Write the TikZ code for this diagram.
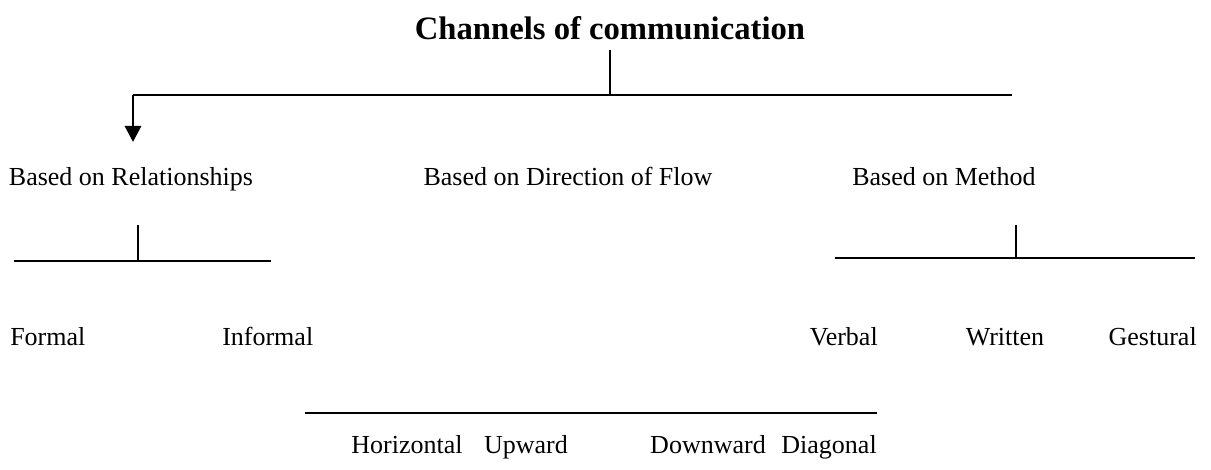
\documentclass[tikz,border=0pt]{standalone}
\usepackage{fontspec}
\setmainfont{Liberation Serif}
\usetikzlibrary{arrows.meta,positioning}
\tikzset{
>={Triangle[width=12pt,length=12pt]},
  chantitle/.style={
    anchor=base,
    inner sep=0pt,
    font=\bfseries\fontsize{24.5}{29}\selectfont},
  chanlabel/.style={
    anchor=base,
    inner sep=0pt,
    font=\fontsize{19.5}{23}\selectfont},
  bar/.style={draw, line width=1.5pt},
  tick/.style={draw, line width=1.2pt},
}

\begin{document}
\begin{tikzpicture}[
    x=0.75pt, y=-0.75pt,
    pile/.style={line width=2.2pt, ->}
    ]
	\useasboundingbox (0,0) rectangle (1211,470);

	% title and main bar
	\node[chantitle] (chan) at (610,40) {Channels of communication};
	\coordinate (barL) at (133,95);
	\coordinate (barR) at (1012,95);
	\coordinate (tip) at (133,142);
	\draw[bar] (barL) -- (barR);
	\draw[tick, shorten <=7pt] (chan.south) -- (chan.south |- barL);
	\draw[pile] (barL) -- (tip);

	% second level
	\node[chanlabel] (rel) at (131,186) {Based on Relationships};
	\node[chanlabel] (dir) at (568,186) {Based on Direction of Flow};
	\node[chanlabel] (meth) at (944,186) {Based on Method};

	% relationships
	\coordinate (relL) at (14,261);
	\coordinate (relR) at (271,261);
	\coordinate (relT) at (138,225);
	\draw[bar] (relL) -- (relR);
	\draw[tick] (relT) -- (relT |- relL);
	\node[chanlabel, anchor=base west] (formal) at (10,346) {Formal};
	\node[chanlabel, anchor=base west] (informal) at (222,346) {Informal};

	% method
	\coordinate (methL) at (835,258);
	\coordinate (methR) at (1195,258);
	\coordinate (methT) at (1016,225);
	\draw[bar] (methL) -- (methR);
	\draw[tick] (methT) -- (methT |- methL);
	\node[chanlabel, anchor=base east] (verbal) at (878,346) {Verbal};
	\node[chanlabel] (written) at (1005,346) {Written};
	\node[chanlabel, anchor=base east] (gest) at (1197,346) {Gestural};

	% direction of flow
	\coordinate (dirL) at (305,413);
	\coordinate (dirR) at (877,413);
	\draw[bar] (dirL) -- (dirR);
	\node[chanlabel] (horiz) at (407,453) {Horizontal};
	\node[chanlabel] (up) at (526,453) {Upward};
	\node[chanlabel] (down) at (708,453) {Downward};
	\node[chanlabel, anchor=base east] (diag) at (877,453) {Diagonal};

\end{tikzpicture}
\end{document}
